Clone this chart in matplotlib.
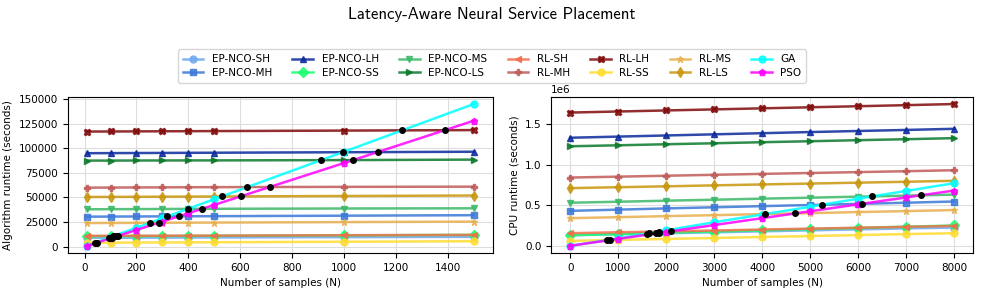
import numpy as np
import matplotlib
matplotlib.use("Agg")
import matplotlib.pyplot as plt

# 1. Data
# -----------------------------------------------------------------------------
n_alg = [10, 100, 200, 300, 400, 500, 1000, 1500]
n_cpu = [0, 1000, 2000, 3000, 4000, 5000, 6000, 7000, 8000]

methods = ['EP-NCO-SH', 'EP-NCO-MH', 'EP-NCO-LH', 'EP-NCO-SS', 'EP-NCO-MS', 'EP-NCO-LS',
           'RL-SH', 'RL-MH', 'RL-LH', 'RL-SS', 'RL-MS', 'RL-LS', 'GA', 'PSO']

colors = ['#6fa8f0', '#3b78d8', '#0b2a9c', '#1aff70', '#3cb868', '#0c7a2c',
          '#f26e4c', '#c05c58', '#800a0a', '#ffdc30', '#e8b050', '#c8960c',
          '#00ffff', '#ff00ff']
markers = ['o', 's', '^', 'D', 'v', '>', '<', 'P', 'X', 'o', '*', 'd', 'o', 'p']

# Algorithm runtime (seconds)
alg_ep_sh = [9000, 9000, 9100, 9200, 9300, 9400, 9700, 10000]
alg_ep_mh = [30500, 30600, 30700, 30800, 30900, 31000, 31500, 32000]
alg_ep_lh = [95000, 95100, 95200, 95300, 95400, 95500, 96000, 96500]
alg_ep_ss = [10500, 10600, 10700, 10800, 10900, 11000, 11500, 12000]
alg_ep_ms = [38000, 38100, 38200, 38300, 38400, 38500, 38800, 39000]
alg_ep_ls = [87500, 87500, 87600, 87600, 87700, 87700, 88000, 88500]
alg_rl_sh = [11000, 11000, 11100, 11100, 11200, 11200, 11600, 12000]
alg_rl_mh = [60000, 60100, 60200, 60300, 60400, 60500, 60800, 61000]
alg_rl_lh = [117000, 117100, 117200, 117300, 117400, 117500, 118000, 118500]
alg_rl_ss = [4000, 4100, 4200, 4300, 4400, 4500, 5000, 5500]
alg_rl_ms = [24000, 24100, 24200, 24300, 24400, 24500, 25000, 25500]
alg_rl_ls = [50500, 50600, 50700, 50800, 50900, 51000, 51500, 52000]
alg_ga = [1000, 9700, 19300, 29000, 38600, 48300, 96500, 145000]
alg_pso = [900, 8500, 17000, 25500, 34000, 42500, 85000, 128000]

# CPU runtime (seconds)
cpu_ep_sh = [130000, 142000, 154000, 166000, 178000, 190000, 202000, 214000, 225000]
cpu_ep_mh = [430000, 445000, 460000, 474000, 488000, 502000, 516000, 530000, 545000]
cpu_ep_lh = [1330000, 1344000, 1358000, 1372000, 1386000, 1400000, 1413000, 1426000, 1440000]
cpu_ep_ss = [130000, 145000, 160000, 175000, 190000, 205000, 220000, 235000, 250000]
cpu_ep_ms = [530000, 542000, 555000, 567000, 580000, 592000, 605000, 617000, 630000]
cpu_ep_ls = [1225000, 1237000, 1250000, 1262000, 1275000, 1287000, 1300000, 1312000, 1325000]
cpu_rl_sh = [155000, 166000, 177000, 188000, 200000, 211000, 222000, 233000, 245000]
cpu_rl_mh = [840000, 851000, 862000, 874000, 885000, 896000, 907000, 918000, 930000]
cpu_rl_lh = [1640000, 1653000, 1666000, 1679000, 1692000, 1705000, 1718000, 1731000, 1745000]
cpu_rl_ss = [60000, 72000, 84000, 96000, 108000, 120000, 132000, 144000, 155000]
cpu_rl_ms = [340000, 352000, 365000, 377000, 390000, 402000, 415000, 427000, 440000]
cpu_rl_ls = [710000, 721000, 732000, 744000, 755000, 766000, 777000, 788000, 800000]
cpu_ga = [0, 90000, 190000, 290000, 385000, 480000, 580000, 675000, 770000]
cpu_pso = [0, 85000, 170000, 255000, 340000, 425000, 510000, 595000, 680000]

alg_data = [alg_ep_sh, alg_ep_mh, alg_ep_lh, alg_ep_ss, alg_ep_ms, alg_ep_ls,
            alg_rl_sh, alg_rl_mh, alg_rl_lh, alg_rl_ss, alg_rl_ms, alg_rl_ls,
            alg_ga, alg_pso]
cpu_data = [cpu_ep_sh, cpu_ep_mh, cpu_ep_lh, cpu_ep_ss, cpu_ep_ms, cpu_ep_ls,
            cpu_rl_sh, cpu_rl_mh, cpu_rl_lh, cpu_rl_ss, cpu_rl_ms, cpu_rl_ls,
            cpu_ga, cpu_pso]


# 2. Crossing points of the metaheuristics with the other curves
# -----------------------------------------------------------------------------
def crossings(x, a, b):
    x = np.asarray(x, float)
    d = np.asarray(a, float) - np.asarray(b, float)
    pts = []
    for i in range(len(x) - 1):
        if d[i] == 0 or d[i] * d[i + 1] < 0:
            t = d[i] / (d[i] - d[i + 1])
            xc = x[i] + t * (x[i + 1] - x[i])
            yc = a[i] + t * (a[i + 1] - a[i])
            pts.append((xc, yc))
    return pts


def draw_panel(ax, x, data):
    for name, y, c, m in zip(methods, data, colors, markers):
        ax.plot(x, y, color=c, marker=m, markersize=5, linewidth=1.8,
                alpha=0.85, label=name)
    # crossing dots for GA / PSO
    for k in (12, 13):
        for j in range(12):
            for xc, yc in crossings(x, data[k], data[j]):
                if xc > x[0]:
                    ax.plot(xc, yc, 'o', color='black', markersize=4, zorder=5)
    ax.grid(True, color='#dddddd', linewidth=0.8)
    ax.tick_params(labelsize=7.5)
    ax.set_xlabel('Number of samples (N)', fontsize=7.5)


# 3. Figure
# -----------------------------------------------------------------------------
fig = plt.figure(figsize=(9.84, 2.92), dpi=100)
ax1 = fig.add_axes([0.069, 0.134, 0.432, 0.534])
ax2 = fig.add_axes([0.560, 0.134, 0.429, 0.534])

draw_panel(ax1, n_alg, alg_data)
ax1.set_ylabel('Algorithm runtime (seconds)', fontsize=7.5)
ax1.set_yticks([0, 25000, 50000, 75000, 100000, 125000, 150000])

draw_panel(ax2, n_cpu, cpu_data)
ax2.set_ylabel('CPU runtime (seconds)', fontsize=7.5)
ax2.set_yticks([0, 500000, 1000000, 1500000])
ax2.yaxis.get_offset_text().set_fontsize(7.5)

handles, labels = ax1.get_legend_handles_labels()
fig.legend(handles, labels, loc='center', bbox_to_anchor=(0.5, 0.774), ncol=7,
           fontsize=7.5, frameon=True, handlelength=2.0, columnspacing=1.95,
           borderpad=0.45, labelspacing=0.35, handletextpad=0.8)

fig.text(0.5, 0.952, 'Latency-Aware Neural Service Placement', ha='center',
         va='center', fontsize=12, family='cmss10')

plt.savefig('out.png', dpi=100)
